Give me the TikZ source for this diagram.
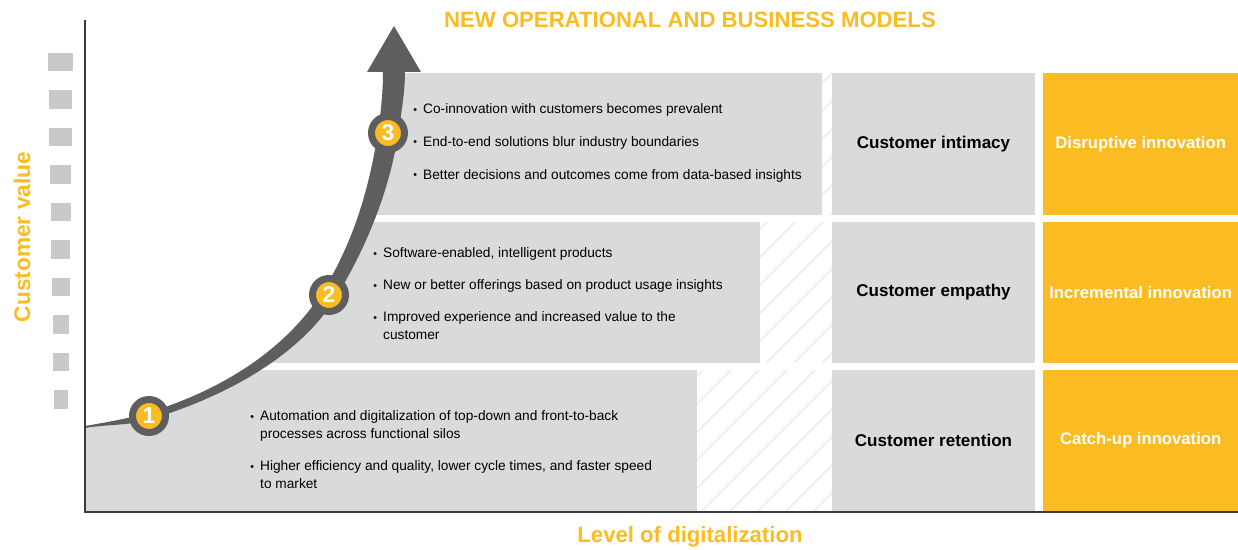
\documentclass[tikz,border=0pt]{standalone}
\usepackage{fontspec}
\setmainfont{Liberation Sans}
\usetikzlibrary{positioning}
\definecolor{dgyellow}{HTML}{FBBB22}
\definecolor{dggray}{HTML}{D9DADC}
\definecolor{dgdark}{HTML}{5E5E5E}
\definecolor{dgbar}{HTML}{C9C9C9}
\definecolor{dghatch}{HTML}{E8E8E8}
\definecolor{dgaxis}{HTML}{3A3A3A}
\newcommand{\pt}{\raisebox{0.5pt}{\fontsize{6}{6}\selectfont\textbullet}}

\begin{document}
\begin{tikzpicture}[x=0.02cm, y=-0.02cm, font=\fontsize{7.8}{10.2}\selectfont,
     lvl/.style={fill=dggray, minimum width=4.06cm, minimum height=2.84cm, inner sep=0pt, font=\fontsize{9.7}{11}\selectfont\bfseries},
     inno/.style={fill=dgyellow, text=white, minimum width=3.92cm, minimum height=2.84cm, inner sep=0pt, font=\fontsize{9.5}{11}\selectfont\bfseries},
     badge/.style={circle, fill=dgyellow, draw=dgdark, line width=0.14cm, minimum size=0.66cm, inner sep=0pt, text=white, font=\fontsize{13}{13}\selectfont\bfseries},
     pts/.style={anchor=base west, inner sep=0pt},
     ttl/.style={text=dgyellow, font=\fontsize{12.6}{14}\selectfont\bfseries}]
    \useasboundingbox (0,0) rectangle (1238,550);
    % gray bands behind the curve
    \fill[dggray] (360,73) rectangle (822,215);
    \fill[dggray] (240,222) rectangle (760,363);
    \fill[dggray] (86,370) rectangle (697,511);
    % hatched gaps
    \begin{scope}
      \clip (822,73) rectangle (832,215) (760,222) rectangle (832,363) (697,370) rectangle (832,511);
      \foreach \k in {0,...,22}
        \draw[dghatch, line width=0.7pt] (250+28*\k,515) -- ++(450,-450);
    \end{scope}
    % white above the curve
    \fill[white] (86,426) .. controls (106.7,422.3) and (126.9,418.9) .. (148,412.6)
      .. controls (217,391.9) and (284.8,352) .. (323,291)
      .. controls (353.2,242.7) and (369.6,187.9) .. (378,131.5)
      .. controls (381,111.7) and (383,92) .. (383,72) -- (383,60) -- (86,60) -- cycle;
    % growth arrow
    \fill[dgdark] (85,426) .. controls (106.7,422.3) and (126.9,418.9) .. (148,412.6)
      .. controls (217,391.9) and (284.8,352) .. (323,291)
      .. controls (353.2,242.7) and (369.6,187.9) .. (378,131.5)
      .. controls (381,111.7) and (383,92) .. (383,72)
      -- (367,72) -- (394,26) -- (421,72) -- (405,72)
      .. controls (405,92) and (401,114.7) .. (398,134.5)
      .. controls (389.6,190.9) and (365.2,250.4) .. (335,298.7)
      .. controls (296.8,359.7) and (219,398.7) .. (150,419.4)
      .. controls (128.9,425.7) and (106.7,424.3) .. (85,428) -- cycle;
    \node[badge] (s1) at (149,416) {1};
    \node[badge] (s2) at (329,295) {2};
    \node[badge] (s3) at (388,133) {3};
    % bullet lists
    \node[pts] (p3) at (413,114) {\begin{tabular}[t]{@{}l@{\hspace{3.5pt}}l@{}}
      \pt & Co-innovation with customers becomes prevalent\\[8.4pt]
      \pt & End-to-end solutions blur industry boundaries\\[8.4pt]
      \pt & Better decisions and outcomes come from data-based insights
      \end{tabular}};
    \node[pts] (p2) at (373,258) {\begin{tabular}[t]{@{}l@{\hspace{3.5pt}}l@{}}
      \pt & Software-enabled, intelligent products\\[8pt]
      \pt & New or better offerings based on product usage insights\\[8pt]
      \pt & Improved experience and increased value to the\\
          & customer
      \end{tabular}};
    \node[pts] (p1) at (250,421) {\begin{tabular}[t]{@{}l@{\hspace{3.5pt}}l@{}}
      \pt & Automation and digitalization of top-down and front-to-back\\
          & processes across functional silos\\[8pt]
      \pt & Higher efficiency and quality, lower cycle times, and faster speed\\
          & to market
      \end{tabular}};
    % levels and innovation types
    \node[lvl] (intimacy) at (933.5,144) {Customer intimacy};
    \node[lvl] (empathy) at (933.5,292.5) {Customer empathy};
    \node[lvl] (retention) at (933.5,440.5) {Customer retention};
    \node[inno, right=0.14cm of intimacy] (disrupt) {Disruptive innovation};
    \node[inno, right=0.14cm of empathy] (increm) {Incremental innovation};
    \node[inno, right=0.14cm of retention] (catchup) {Catch-up innovation};
    % value scale
    \foreach \i in {0,...,9}
      \fill[dgbar] (48+0.67*\i,53+37.5*\i) rectangle (73-0.55*\i,71.5+37.5*\i);
    % axes
    \coordinate (ytop) at (85,20);
    \coordinate (origin) at (85,512);
    \coordinate (xend) at (1238,512);
    \draw[dgaxis, line width=0.9pt] (ytop) -- (origin) -- (xend);
    \node[ttl] (models) at (690,20) {NEW OPERATIONAL AND BUSINESS MODELS};
    \node[ttl] (xlab) at (690,537) {Level of digitalization};
    \node[ttl, rotate=90, font=\fontsize{12.9}{14}\selectfont\bfseries] (ylab) at (22,237) {Customer value};
  \end{tikzpicture}
\end{document}
